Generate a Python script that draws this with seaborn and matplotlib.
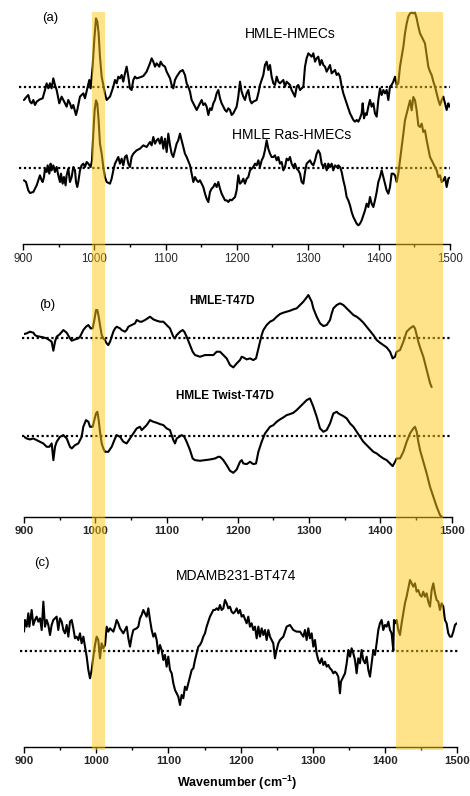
import numpy as np
import pandas as pd
import matplotlib
matplotlib.use("Agg")
import matplotlib.pyplot as plt
from matplotlib.ticker import MultipleLocator
import seaborn as sns

# ---------------- data (difference spectra, arbitrary units, baseline = 0) ----------------
a1_wn = [900.9,904.7,907.0,909.4,911.7,914.1,916.4,918.8,923.4,927.2,930.5,932.8,935.2,937.5,939.8,942.2,944.5,946.9,950.6,953.9,956.3,960.9,963.3,965.6,968.0,970.3,974.1,975.9,979.7,984.4,986.7,990.0,992.8,994.7,997.5,999.8,1002.2,1004.1,1005.9,1007.8,1010.2,1012.5,1014.8,1017.2,1021.9,1026.6,1028.9,1031.3,1033.6,1035.9,1038.3,1040.6,1043.0,1045.3,1047.7,1050.0,1052.3,1054.7,1057.0,1059.4,1064.1,1068.8,1073.4,1078.1,1080.5,1082.8,1085.2,1087.5,1091.3,1093.1,1095.9,1099.2,1101.6,1103.9,1106.3,1108.6,1110.9,1113.3,1115.6,1120.3,1124.1,1127.3,1129.7,1132.0,1134.4,1136.7,1139.1,1141.4,1143.8,1146.1,1148.4,1150.8,1153.1,1155.5,1157.8,1160.2,1162.5,1164.8,1167.2,1169.5,1171.9,1174.2,1176.6,1178.9,1181.3,1183.6,1185.9,1188.3,1190.6,1193.0,1195.3,1197.7,1200.0,1202.3,1204.7,1207.0,1209.4,1211.7,1214.1,1216.4,1218.8,1221.1,1223.4,1228.1,1230.5,1232.8,1235.2,1237.5,1239.8,1242.2,1244.5,1246.9,1249.2,1251.6,1253.9,1256.3,1258.6,1260.9,1265.6,1268.0,1270.3,1275.0,1277.3,1279.7,1282.0,1284.4,1286.7,1289.1,1291.4,1293.8,1296.1,1298.4,1300.8,1303.1,1305.5,1307.8,1310.2,1312.5,1314.8,1317.2,1319.5,1321.9,1324.2,1326.6,1328.9,1331.3,1333.6,1335.9,1338.3,1340.6,1343.0,1345.3,1347.7,1350.0,1352.3,1354.7,1357.0,1359.4,1361.7,1364.1,1366.4,1368.8,1371.1,1373.4,1375.8,1377.2,1379.1,1381.0,1382.8,1385.2,1387.5,1389.8,1392.2,1394.5,1396.9,1399.2,1401.6,1403.9,1406.3,1408.6,1410.9,1413.3,1415.6,1417.9,1420.3,1422.7,1425.0,1427.3,1429.7,1432.0,1434.4,1436.7,1439.1,1441.4,1443.8,1446.1,1448.4,1450.8,1453.1,1455.5,1457.8,1460.2,1462.5,1464.8,1467.2,1469.5,1471.9,1474.2,1476.6,1478.9,1481.3,1483.6,1485.9,1488.3,1490.6,1493.0,1495.3,1497.7,1499.1]
a1_val = [-39,-29,-24,-44,-49,-39,-54,-44,-37,-34,-9,11,-4,11,-4,26,6,-9,-49,-29,-39,-59,-39,-49,-64,-54,-84,-69,-29,-19,-34,-4,21,-4,61,141,206,196,161,91,31,6,-19,-39,-29,1,21,11,31,26,36,16,41,61,31,-4,-9,21,31,26,29,33,46,71,86,76,61,71,61,76,66,61,46,36,26,6,-4,21,31,46,51,36,11,1,-14,-39,-49,-59,-69,-59,-49,-39,-54,-49,-59,-84,-64,-69,-49,-39,-19,-9,-34,-49,-59,-69,-74,-64,-69,-84,-79,-69,-59,-29,16,-14,-29,-39,-19,-9,-39,-49,-44,-39,-19,6,21,36,66,76,51,66,31,11,6,31,16,11,21,1,16,6,-9,-19,-29,1,6,-9,-4,1,61,86,101,96,91,101,76,86,91,66,81,66,61,46,56,66,41,46,51,36,41,31,1,-19,-34,-49,-64,-79,-89,-99,-104,-99,-104,-94,-79,-49,-94,-79,-84,-59,-39,-59,-49,-79,-89,-39,-4,-24,-9,-19,-9,-39,1,6,16,31,6,11,61,91,121,161,191,211,221,223,221,223,206,181,161,151,141,131,96,61,46,36,16,1,-19,-39,-54,-39,-29,-49,-69,-49,-59]

a2_wn = [900.9,903.8,907.0,909.4,914.1,916.4,918.8,921.1,923.4,925.8,927.2,929.1,930.5,932.8,934.2,936.6,938.4,939.8,942.2,944.5,946.9,949.2,951.6,953.0,955.3,957.2,959.5,960.9,963.3,965.6,968.0,970.3,972.7,974.1,975.9,977.3,979.7,982.0,984.4,986.7,989.1,991.4,994.7,996.6,998.4,1000.3,1002.2,1004.1,1005.9,1007.8,1010.2,1012.5,1014.8,1017.2,1021.9,1024.2,1026.6,1028.9,1031.3,1033.6,1035.9,1038.3,1040.6,1043.0,1045.3,1047.7,1050.0,1052.3,1054.7,1059.4,1064.1,1068.8,1073.4,1078.1,1080.5,1082.8,1085.2,1087.5,1089.8,1092.2,1094.5,1096.9,1099.2,1101.6,1103.9,1106.3,1108.6,1110.9,1113.3,1115.6,1117.9,1120.3,1122.7,1125.0,1127.3,1129.7,1134.4,1136.7,1139.1,1141.4,1143.8,1146.1,1148.4,1150.8,1153.1,1155.5,1157.8,1160.2,1162.5,1164.8,1167.2,1169.5,1171.9,1174.2,1176.6,1178.9,1181.3,1183.6,1185.9,1188.3,1190.6,1193.0,1195.3,1197.7,1200.0,1202.3,1204.7,1207.0,1209.4,1211.7,1214.1,1216.4,1218.8,1223.4,1225.8,1228.1,1230.5,1232.8,1235.2,1237.5,1239.8,1242.2,1244.5,1246.9,1249.2,1251.6,1253.9,1256.3,1258.6,1260.9,1263.3,1265.6,1268.0,1270.3,1272.7,1275.0,1277.3,1279.7,1282.0,1284.4,1286.7,1289.1,1291.4,1293.8,1296.1,1298.4,1300.8,1303.1,1305.5,1307.8,1310.2,1312.5,1314.8,1317.2,1319.5,1321.9,1324.2,1326.6,1328.9,1331.3,1333.6,1335.9,1338.3,1340.6,1343.0,1345.3,1347.7,1350.0,1352.3,1354.7,1357.0,1359.4,1361.7,1364.1,1366.4,1368.8,1371.1,1373.4,1375.8,1378.1,1380.5,1382.8,1385.2,1387.5,1389.8,1392.2,1394.5,1396.9,1399.2,1401.6,1403.9,1406.3,1408.6,1410.9,1413.3,1415.6,1417.9,1420.3,1422.7,1425.0,1427.3,1429.7,1432.0,1434.4,1436.7,1439.1,1441.4,1443.8,1446.1,1448.4,1450.8,1453.1,1455.5,1457.8,1460.2,1462.5,1464.8,1467.2,1469.5,1471.9,1474.2,1476.6,1478.9,1481.3,1483.6,1485.9,1488.3,1490.6,1493.0,1495.3,1497.7,1499.1]
a2_val = [-37,-42,-67,-75,-72,-62,-52,-37,-22,-37,-42,-27,-2,-12,8,-17,13,-7,8,-12,3,-22,-42,-17,-47,-27,-52,-22,-2,-42,-27,3,-7,-42,-57,-42,-7,8,13,3,18,13,3,23,103,173,203,193,143,73,43,3,-27,-42,-47,-32,-7,13,23,33,13,28,8,33,38,13,3,33,43,53,58,68,63,78,68,93,73,83,88,73,93,58,88,48,103,68,43,33,53,73,83,103,83,63,43,33,8,-17,-42,-27,-37,-42,-37,-47,-57,-77,-92,-102,-72,-62,-57,-47,-57,-42,-62,-77,-87,-97,-97,-102,-95,-97,-92,-87,-67,-22,-47,-42,-32,-47,-32,-27,-7,3,13,8,23,3,23,33,53,83,58,43,33,33,38,23,33,13,18,-7,3,28,23,33,13,3,13,-2,-7,-17,-42,-47,-12,13,18,23,13,8,23,43,53,43,13,3,13,-7,13,3,13,-7,8,3,8,3,-12,-37,-57,-87,-97,-112,-132,-147,-157,-167,-172,-167,-157,-142,-127,-107,-117,-87,-107,-117,-97,-72,-42,-27,-7,-27,-47,-67,-77,-57,-17,-17,-22,-42,-17,23,63,103,143,163,183,203,173,213,203,173,128,123,133,108,113,83,58,33,23,13,3,-7,-27,-22,-42,-37,-27,-57,-32,-29]

b1_wn = [900.0,903.7,908.4,913.1,915.4,917.8,922.4,927.1,931.8,935.5,938.8,941.2,943.5,945.8,950.5,955.2,959.9,964.5,966.9,971.6,976.2,978.6,980.9,983.2,987.0,990.3,993.5,996.3,998.7,1001.0,1002.9,1004.8,1006.6,1009.0,1011.3,1013.6,1016.0,1018.3,1020.7,1025.3,1027.7,1030.0,1034.7,1037.0,1041.7,1044.0,1046.4,1051.1,1055.7,1058.1,1062.7,1065.1,1069.8,1076.8,1081.4,1086.1,1090.8,1095.5,1100.2,1104.8,1109.5,1111.8,1114.2,1118.9,1122.6,1124.9,1128.2,1132.9,1136.6,1139.9,1146.9,1153.9,1161.0,1165.6,1170.3,1175.0,1179.7,1184.3,1189.0,1193.7,1198.4,1203.0,1205.4,1207.7,1212.4,1217.1,1221.7,1225.5,1228.8,1231.1,1233.4,1235.8,1240.4,1245.1,1249.8,1254.5,1259.1,1263.8,1268.5,1273.2,1277.9,1282.5,1287.2,1291.9,1296.6,1298.9,1301.2,1303.6,1305.9,1310.6,1315.3,1320.0,1324.6,1329.3,1331.7,1334.0,1338.7,1343.4,1348.0,1352.7,1357.4,1362.1,1366.7,1371.4,1376.1,1380.7,1385.4,1390.1,1394.8,1399.4,1404.1,1408.8,1413.5,1417.2,1420.5,1422.8,1427.5,1432.2,1436.8,1441.5,1446.2,1448.5,1450.9,1453.2,1455.6,1460.2,1464.9,1469.6,1471.9]
b1_val = [12,14,19,16,9,6,4,2,-1,-6,-11,-38,-11,4,12,24,16,-1,-8,-4,-1,4,14,24,34,39,29,29,54,84,84,64,39,9,-1,-6,-16,-21,-11,19,29,34,29,24,19,24,34,39,44,54,49,49,54,64,56,52,49,49,39,29,4,-1,9,19,24,19,4,-21,-41,-51,-56,-51,-51,-51,-41,-41,-51,-61,-81,-88,-76,-66,-56,-58,-64,-61,-66,-61,-31,-11,9,24,39,49,54,64,72,76,79,82,86,89,99,109,122,129,119,109,89,64,44,36,39,54,74,89,99,104,99,89,79,69,64,56,46,34,22,9,-6,-14,-21,-28,-41,-61,-56,-41,-36,-11,19,29,36,29,9,-11,-28,-56,-96,-135,-147]

b2_wn = [900.0,903.7,908.4,913.1,917.8,922.4,927.1,931.8,935.5,938.8,941.2,943.5,945.8,950.5,955.2,959.9,964.5,966.9,971.6,976.2,978.6,980.9,983.2,987.0,990.3,992.6,996.3,998.7,1001.0,1002.9,1004.8,1006.6,1009.0,1011.3,1013.6,1018.3,1023.0,1027.7,1030.0,1034.7,1039.4,1044.0,1048.7,1053.4,1058.1,1062.7,1065.1,1067.4,1072.1,1076.8,1081.4,1086.1,1090.8,1095.5,1100.2,1104.8,1109.5,1111.8,1114.2,1121.2,1124.9,1128.2,1132.9,1136.6,1139.9,1146.9,1153.9,1161.0,1168.0,1172.6,1175.0,1179.7,1184.3,1189.0,1193.7,1198.4,1203.0,1205.4,1207.7,1212.4,1217.1,1221.7,1225.5,1228.8,1233.4,1238.1,1245.1,1249.8,1254.5,1259.1,1263.8,1268.5,1273.2,1277.9,1282.5,1287.2,1291.9,1296.6,1301.2,1305.9,1310.6,1315.3,1320.0,1324.6,1329.3,1331.7,1334.0,1338.7,1341.0,1348.0,1352.7,1357.4,1362.1,1366.7,1371.4,1376.1,1380.7,1385.4,1390.1,1394.8,1399.4,1404.1,1408.8,1413.5,1417.2,1420.5,1422.8,1427.5,1432.2,1436.8,1441.5,1446.2,1448.5,1450.9,1453.2,1455.6,1460.2,1464.9,1469.6,1474.3,1479.0,1483.6,1486.0]
b2_val = [-3,-8,-11,-8,-13,-18,-23,-33,-33,-23,-73,-33,-18,-3,2,-8,-33,-38,-28,-23,-13,-3,27,47,42,27,27,47,67,72,47,12,-23,-38,-48,-48,-33,-8,2,-3,-18,-23,-8,7,22,27,17,22,32,47,42,39,35,32,22,17,-13,-23,-8,2,-3,-18,-43,-68,-73,-75,-73,-71,-68,-63,-63,-73,-88,-105,-111,-101,-78,-73,-83,-85,-78,-85,-83,-48,-18,7,27,32,42,49,55,62,65,69,77,87,97,107,112,87,57,22,12,17,37,52,67,72,67,59,52,37,27,12,-3,-18,-28,-38,-48,-53,-61,-68,-73,-83,-91,-78,-68,-68,-48,-18,7,22,27,12,-18,-43,-78,-113,-153,-183,-213,-238,-243]

c_wn = [900.0,901.4,903.7,906.0,907.4,910.6,912.9,915.2,917.5,919.8,922.2,924.5,926.8,929.1,931.4,933.7,936.0,938.3,940.6,945.2,947.5,949.8,952.2,954.5,956.8,959.1,961.4,963.7,966.0,968.3,970.6,972.9,975.2,977.5,979.8,982.2,984.5,986.8,989.1,991.4,993.7,996.0,998.3,1000.6,1002.9,1005.2,1007.5,1009.8,1012.2,1014.5,1016.8,1019.1,1023.7,1026.0,1028.3,1030.6,1032.9,1037.5,1039.8,1042.2,1044.5,1046.8,1049.1,1051.4,1056.0,1058.3,1060.6,1062.9,1065.2,1069.8,1072.2,1074.5,1076.8,1079.1,1081.4,1083.7,1086.0,1088.3,1090.6,1092.9,1095.2,1097.5,1099.8,1102.2,1104.5,1106.8,1109.1,1111.4,1113.7,1116.0,1118.3,1120.6,1122.9,1125.2,1127.5,1129.8,1132.2,1134.5,1136.8,1139.1,1141.4,1143.7,1146.0,1148.3,1150.6,1152.9,1155.2,1157.5,1159.8,1162.2,1164.5,1166.8,1169.1,1171.4,1173.7,1176.0,1178.3,1180.6,1182.9,1185.2,1187.5,1189.8,1192.2,1194.5,1196.8,1199.1,1201.4,1203.7,1208.3,1210.6,1212.9,1215.2,1217.5,1219.8,1222.2,1224.5,1226.8,1229.1,1231.4,1233.7,1236.0,1238.3,1240.6,1242.9,1245.2,1247.5,1249.8,1252.2,1254.5,1259.1,1263.7,1268.3,1272.9,1277.5,1282.2,1286.8,1289.1,1291.4,1293.7,1296.0,1298.3,1300.6,1302.9,1305.2,1307.5,1309.8,1312.2,1314.5,1316.8,1319.1,1321.4,1323.7,1326.0,1328.3,1330.6,1332.9,1335.2,1337.5,1338.9,1342.2,1344.5,1346.8,1349.1,1351.4,1353.7,1356.0,1358.3,1360.6,1362.9,1365.2,1367.5,1369.8,1372.2,1374.5,1376.8,1379.1,1381.4,1383.7,1386.0,1388.3,1390.6,1392.9,1395.2,1397.5,1399.8,1402.2,1404.5,1406.8,1409.1,1411.4,1412.3,1413.7,1416.0,1418.3,1420.6,1422.9,1425.2,1427.5,1429.8,1432.2,1434.5,1436.8,1439.1,1441.4,1443.7,1446.0,1448.3,1450.6,1452.9,1455.2,1457.5,1459.8,1462.2,1464.5,1466.8,1469.1,1471.4,1473.7,1476.0,1478.3,1480.6,1482.9,1485.2,1487.5,1489.8,1492.2,1494.5,1496.8,1499.1]
c_val = [57,92,72,112,72,122,77,92,102,87,97,62,147,72,92,77,47,77,92,102,62,97,87,62,52,77,42,87,92,67,37,42,32,52,22,42,12,-18,-58,-83,-58,-18,17,42,32,-23,22,7,17,72,57,67,57,72,92,82,67,52,62,72,37,12,42,62,67,72,97,107,122,102,127,92,62,42,52,32,-8,17,2,-28,-13,-48,-18,-58,-68,-98,-118,-128,-138,-163,-133,-143,-108,-118,-98,-78,-58,-53,-28,-8,12,17,27,42,52,72,87,102,112,122,122,127,122,137,122,127,152,142,127,132,117,112,117,127,112,122,102,107,82,102,72,82,62,72,37,72,42,67,47,62,32,62,42,32,22,-23,2,22,32,42,72,77,62,57,57,42,62,32,67,37,52,12,32,-8,-28,-38,-23,-43,-33,-48,-43,-53,-58,-68,-63,-68,-78,-128,-93,-78,-68,-38,2,-18,7,-8,-28,-68,-23,-38,2,-28,-38,-18,-58,-78,-38,2,-13,22,62,82,92,62,77,72,87,62,52,0,92,82,92,62,47,82,112,142,162,187,212,202,192,202,177,182,167,162,177,162,172,147,132,182,202,172,152,147,122,142,132,92,82,52,42,42,57,77,82]

tick_values = [900, 1000, 1100, 1200, 1300, 1400, 1500]
band_ranges = [(994, 1012), (1415, 1480)]
panel_letters = ["(a)", "(b)", "(c)"]
series_names = ["HMLE-HMECs", "HMLE Ras-HMECs", "HMLE-T47D", "HMLE Twist-T47D", "MDAMB231-BT474"]

# ---------------- style ----------------
sns.set_theme(style="white")
plt.rcParams['font.family'] = ['Liberation Sans', 'DejaVu Sans']
plt.rcParams['mathtext.fontset'] = 'custom'
plt.rcParams['mathtext.rm'] = 'Liberation Sans'
plt.rcParams['mathtext.bf'] = 'Liberation Sans:bold'

W, H = 470, 796
fig = plt.figure(figsize=(W / 100, H / 100), dpi=100)
fig.patch.set_facecolor('white')


def px_axes(left, right, top, bottom):
    return fig.add_axes([left / W, 1 - bottom / H, (right - left) / W, (bottom - top) / H])


def style_axis(ax, label_size, weight):
    for s in ['left', 'right', 'top']:
        ax.spines[s].set_visible(False)
    ax.spines['bottom'].set_color('black')
    ax.spines['bottom'].set_linewidth(1.0)
    ax.set_xlim(900, 1500)
    ax.set_xticks(tick_values)
    ax.xaxis.set_minor_locator(MultipleLocator(50))
    ax.set_yticks([])
    ax.tick_params(axis='x', which='major', direction='out', length=4, width=1,
                   color='black', labelsize=label_size, pad=2.5, bottom=True)
    ax.tick_params(axis='x', which='minor', direction='out', length=2.4, width=1,
                   color='black', bottom=True)
    for lab in ax.get_xticklabels():
        lab.set_fontweight(weight)
    ax.set_xlabel('')
    ax.set_ylabel('')
    ax.patch.set_alpha(0)
    ax.grid(False)


def draw_curve(ax, wn, val, offset, x0, x1):
    df = pd.DataFrame({'wn': wn, 'val': np.asarray(val, float) + offset})
    sns.lineplot(data=df, x='wn', y='val', ax=ax, color='black', lw=1.5,
                 estimator=None, sort=False, legend=False)
    ax.plot([x0, x1], [offset, offset], color='black', lw=1.6, ls=(0, (1, 1.2)),
            clip_on=False)


# panel (a)
ax_a = px_axes(23.3, 450, 8, 244)
draw_curve(ax_a, a1_wn, a1_val, 0, 894, 1500)
draw_curve(ax_a, a2_wn, a2_val, -243, 894, 1500)
ax_a.set_ylim(-471, 237)
style_axis(ax_a, 8.3, 'normal')

# panel (b)
ax_b = px_axes(24, 451.7, 262, 516.5)
draw_curve(ax_b, b1_wn, b1_val, 0, 897, 1497)
draw_curve(ax_b, b2_wn, b2_val, -293, 897, 1497)
ax_b.set_ylim(-535, 228)
style_axis(ax_b, 8.2, 'bold')

# panel (c)
ax_c = px_axes(24, 457.3, 555, 747.3)
draw_curve(ax_c, c_wn, c_val, 0, 895, 1504)
ax_c.set_ylim(-290, 287)
style_axis(ax_c, 8.2, 'bold')

# highlighted bands spanning the whole figure
ax_band = px_axes(24, 457.3, 12, 750)
ax_band.set_xlim(900, 1500)
ax_band.set_ylim(0, 1)
ax_band.axis('off')
ax_band.set_zorder(10)
ax_band.patch.set_alpha(0)
for lo, hi in band_ranges:
    ax_band.axvspan(lo, hi, color='#FFC819', alpha=0.5, lw=0)

# texts
def ftext(x, y, s, **kw):
    fig.text(x / W, 1 - y / H, s, ha='center', va='center', color='black', **kw)

ftext(50, 18, panel_letters[0], fontsize=9.5)
ftext(47, 305, panel_letters[1], fontsize=9.5)
ftext(42, 563, panel_letters[2], fontsize=9.5)
ftext(290, 34, series_names[0], fontsize=10)
ftext(292, 135, series_names[1], fontsize=10)
ftext(222, 301, series_names[2], fontsize=8.5, fontweight='bold')
ftext(225, 396, series_names[3], fontsize=8.5, fontweight='bold')
ftext(236, 576, series_names[4], fontsize=10)
ftext(237, 783, r'Wavenumber (cm$^{\mathbf{-1}}$)', fontsize=9, fontweight='bold')

fig.savefig('out.png', dpi=100, facecolor='white')
